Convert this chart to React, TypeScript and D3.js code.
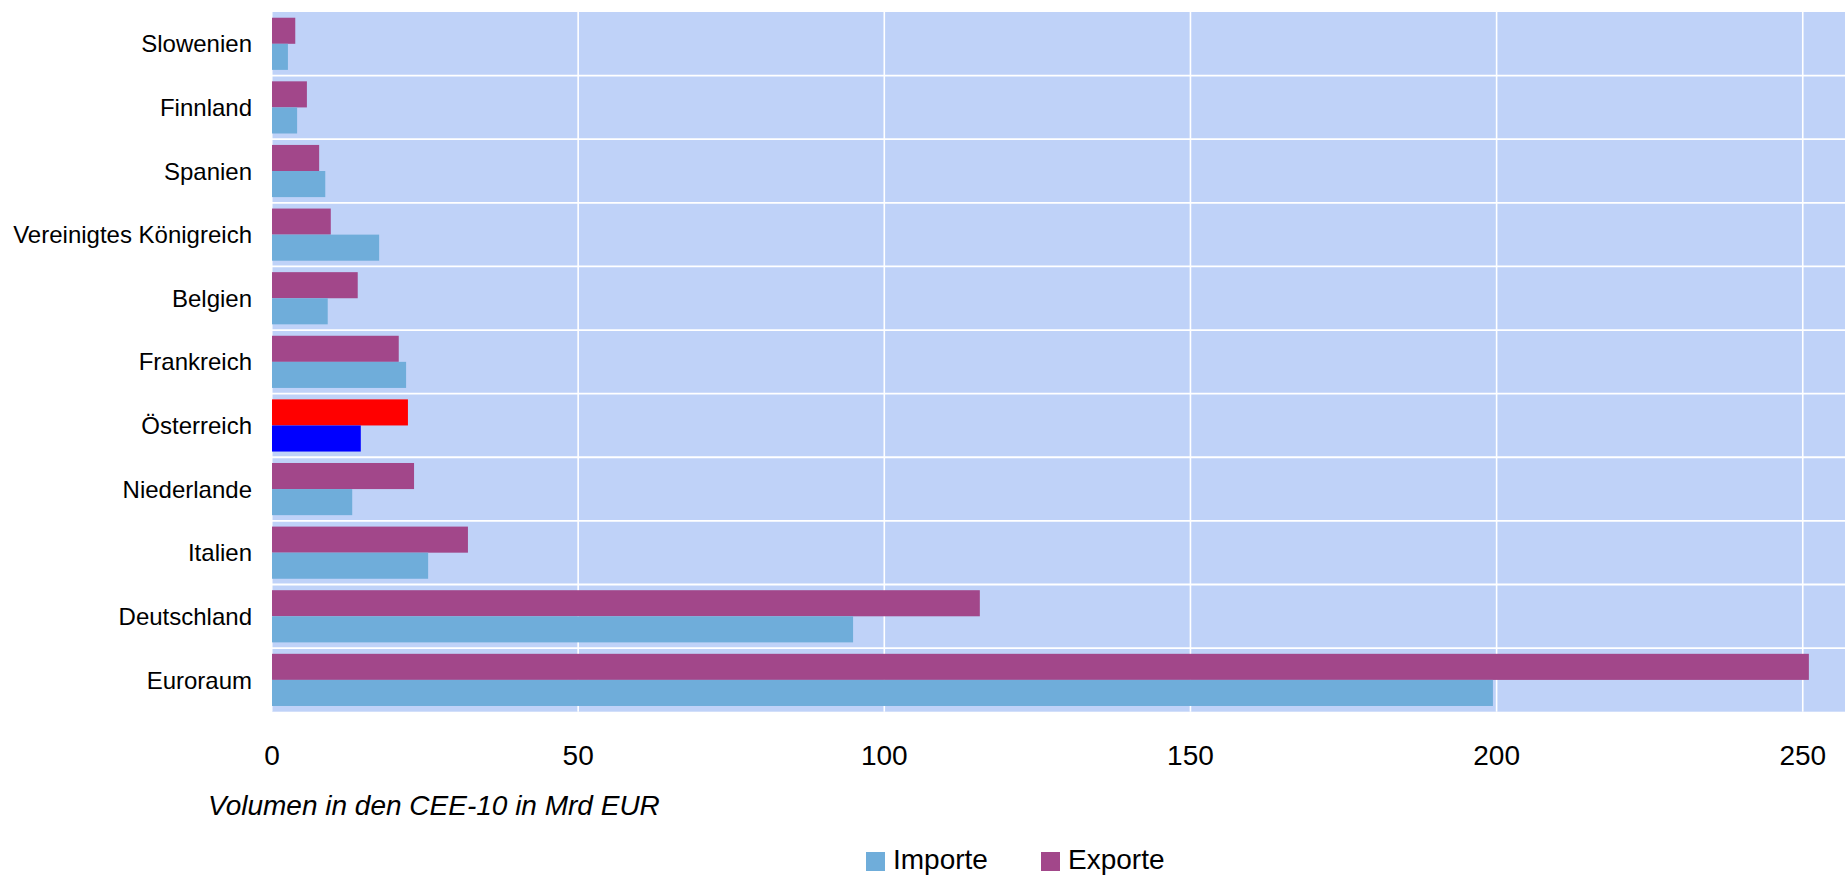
import React from "react";
import * as d3 from "d3";

// Werte in Mrd EUR, von oben nach unten
const categories = [
  "Slowenien",
  "Finnland",
  "Spanien",
  "Vereinigtes Königreich",
  "Belgien",
  "Frankreich",
  "Österreich",
  "Niederlande",
  "Italien",
  "Deutschland",
  "Euroraum",
];
const importe = [2.6, 4.1, 8.7, 17.5, 9.1, 21.9, 14.5, 13.1, 25.5, 94.9, 199.4];
const exporte = [3.8, 5.7, 7.7, 9.6, 14.0, 20.7, 22.2, 23.2, 32.0, 115.6, 251.0];
const xTicks = [0, 50, 100, 150, 200, 250];
const highlighted = "Österreich";
const axisTitle = "Volumen in den CEE-10 in Mrd EUR";
const legendItems = ["Importe", "Exporte"];

const width = 1845;
const height = 875;
const font = "'Liberation Sans', Arial, sans-serif";

const colors = {
  bg: "#bfd2f8",
  importe: "#6fadda",
  exporte: "#a2478a",
  importeHi: "#0000ff",
  exporteHi: "#ff0000",
};

const App: React.FC = () => {
  const plot = { left: 272, right: 1845, top: 12, bottom: 711.7 };

  const x = d3.scaleLinear().domain([0, 256.9]).range([plot.left, plot.right]);
  const y = d3
    .scaleBand<string>()
    .domain(categories)
    .range([plot.top, plot.bottom])
    .paddingInner(0.18)
    .paddingOuter(0.09);
  const half = y.bandwidth() / 2;
  const step = y.step();

  return (
    <svg
      width={width}
      height={height}
      style={{ position: "absolute", left: 0, top: 0, background: "#fff" }}
      fontFamily={font}
    >
      {/* plot area */}
      <rect
        x={plot.left}
        y={plot.top}
        width={plot.right - plot.left}
        height={plot.bottom - plot.top}
        fill={colors.bg}
      />
      {/* gridlines */}
      {xTicks.map(t => (
        <line
          key={"gx" + t}
          x1={x(t)}
          x2={x(t)}
          y1={plot.top}
          y2={plot.bottom}
          stroke="#fff"
          strokeWidth={t === 0 ? 1 : 1.6}
        />
      ))}
      {categories.slice(1).map((c, i) => {
        const gy = plot.top + (i + 1) * step;
        return (
          <line
            key={"gy" + c}
            x1={plot.left}
            x2={plot.right}
            y1={gy}
            y2={gy}
            stroke="#fff"
            strokeWidth={1.8}
          />
        );
      })}
      {/* bars */}
      {categories.map((c, i) => {
        const hi = c === highlighted;
        const y0 = y(c)!;
        return (
          <g key={"b" + c}>
            <rect
              x={x(0)}
              y={y0}
              width={x(exporte[i]) - x(0)}
              height={half}
              fill={hi ? colors.exporteHi : colors.exporte}
            />
            <rect
              x={x(0)}
              y={y0 + half}
              width={x(importe[i]) - x(0)}
              height={half}
              fill={hi ? colors.importeHi : colors.importe}
            />
          </g>
        );
      })}
      {/* category labels */}
      {categories.map(c => (
        <text
          key={"l" + c}
          x={252}
          y={y(c)! + half}
          dy="0.36em"
          textAnchor="end"
          fontSize={24}
          fill="#000"
        >
          {c}
        </text>
      ))}
      {/* x tick labels */}
      {xTicks.map(t => (
        <text key={"t" + t} x={x(t)} y={765} textAnchor="middle" fontSize={28} fill="#000">
          {t}
        </text>
      ))}
      {/* axis title */}
      <text x={208} y={815} fontSize={28} fontStyle="italic" fill="#000">
        {axisTitle}
      </text>
      {/* legend */}
      {legendItems.map((name, i) => {
        const lx = i === 0 ? 866 : 1041;
        return (
          <g key={"lg" + name}>
            <rect
              x={lx}
              y={852}
              width={19}
              height={19}
              fill={i === 0 ? colors.importe : colors.exporte}
            />
            <text x={lx + 27} y={869} fontSize={28} fill="#000">
              {name}
            </text>
          </g>
        );
      })}
    </svg>
  );
};

export default App;
